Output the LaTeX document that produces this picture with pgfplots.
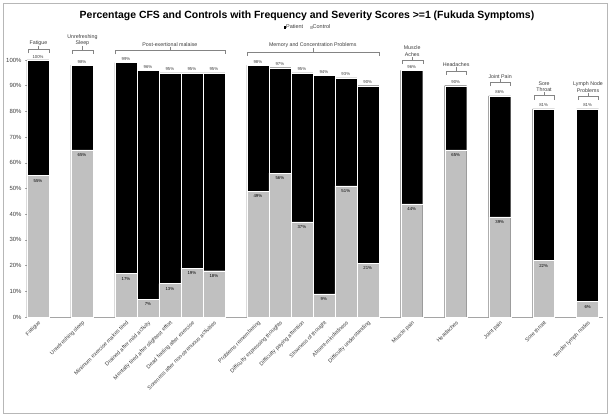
\documentclass[border=0pt]{standalone}
\usepackage{fontspec}
\setmainfont{Liberation Sans}
\usepackage{pgfplots}
\pgfplotsset{compat=1.18}
\usepackage{pgfplotstable}
\definecolor{ctrl}{RGB}{192,192,192}
\definecolor{axgray}{RGB}{165,165,165}
\definecolor{txt}{RGB}{60,60,60}

\pgfplotstableread{
x p c
0 100 55
2 98 65
4 99 17
5 96 7
6 95 13
7 95 19
8 95 18
10 98 49
11 97 56
12 95 37
13 94 9
14 93 51
15 90 21
17 96 44
19 90 65
21 86 39
23 81 22
25 81 6
}\datatab

\newcommand{\grp}[5]{%
  \draw[axgray!80!black, line width=0.4pt] (axis cs:#1,#4-1.6) -- (axis cs:#1,#4) -- (axis cs:#2,#4) -- (axis cs:#2,#4-1.6);
  \draw[axgray!80!black, line width=0.4pt] (axis cs:#3,#4) -- (axis cs:#3,#4+1.3);
  \node[anchor=south, inner sep=0.6bp, align=center, text=txt, font=\fontsize{5.3}{6.2}\selectfont] at (axis cs:#3,#4+1.2) {#5};
}

\begin{document}
\begin{tikzpicture}
\begin{axis}[
  scale only axis, width=576bp, height=257bp,
  xmin=-0.5, xmax=25.7, ymin=0, ymax=100,
  axis x line*=bottom, axis y line*=left,
  axis line style={axgray, line width=0.6pt},
  clip=false,
  /pgf/number format/assume math mode=true,
  ytick={0,10,...,100},
  yticklabel={\pgfmathprintnumber{\tick}\%},
  yticklabel style={font=\fontsize{6}{7}\selectfont, text=txt},
  ytick style={axgray, line width=0.5pt},
  major tick length=2bp,
  tick align=outside,
  xtick={0,2,4,5,6,7,8,10,11,12,13,14,15,17,19,21,23,25},
  xticklabels={Fatigue, Unrefreshing sleep, Minimum exercise makes tired, Drained after mild activity, Mentally tired after slightest effort, Dead feeling after exercise, Soreness after non-strenuous activities, Problems remembering, Difficulty expressing thoughts, Difficulty paying attention, Slowness of thought, Absent-mindedness, Difficulty understanding, Muscle pain, Headaches, Joint pain, Sore throat, Tender lymph nodes},
  x tick style={draw=none},
  xticklabel style={font=\fontsize{5.5}{6}\selectfont, text=txt, rotate=45, anchor=north east, inner sep=0.8bp},
]
\addplot[ybar, bar width=1, bar shift=0pt, fill=black, draw=white, line width=0.3pt,
  nodes near coords={\pgfmathprintnumber[fixed,precision=0]{\pgfplotspointmeta}\%},
  nodes near coords style={font=\fontsize{4.3}{5}\selectfont, text=txt, anchor=south, inner sep=0.6bp, yshift=1.2bp}]
  table[x=x, y=p] {\datatab};
\addplot[ybar, bar width=1, bar shift=0pt, fill=ctrl, draw=white, line width=0.3pt,
  nodes near coords={\pgfmathprintnumber[fixed,precision=0]{\pgfplotspointmeta}\%},
  nodes near coords style={font=\fontsize{4.3}{5}\selectfont, text=black, anchor=north, inner sep=0.6bp, yshift=-3bp}]
  table[x=x, y=c] {\datatab};

\grp{-0.45}{0.5}{0.02}{104.2}{Fatigue}
\grp{1.55}{2.5}{2.02}{104.0}{Unrefreshing\\Sleep}
\grp{3.5}{8.5}{6}{103.8}{Post-exertional malaise}
\grp{9.5}{15.5}{12.5}{103.2}{Memory and Concentration Problems}
\grp{16.55}{17.5}{17.02}{100.0}{Muscle\\Aches}
\grp{18.55}{19.5}{19.02}{95.8}{Headaches}
\grp{20.55}{21.5}{21.02}{91.3}{Joint Pain}
\grp{22.55}{23.5}{23.02}{86.2}{Sore\\Throat}
\grp{24.55}{25.5}{25.02}{86.0}{Lymph Node\\Problems}

\coordinate (O) at (rel axis cs:0,0);
\coordinate (T) at (rel axis cs:1,1);
\end{axis}
\path (O) ++(280bp,301bp) node[font=\bfseries\fontsize{10.5}{12}\selectfont, text=black] {Percentage CFS and Controls with Frequency and Severity Scores >=1 (Fukuda Symptoms)};
\path (O) ++(280bp,290bp) node[font=\fontsize{5.5}{6}\selectfont, text=txt] {\textcolor{black}{\rule{2.5bp}{2.5bp}}Patient\hspace{7bp}\textcolor{ctrl}{\rule{2.5bp}{2.5bp}}Control};
\draw[axgray!80, line width=0.5pt] ([xshift=-24bp,yshift=-96bp]O) rectangle ([xshift=4bp,yshift=57bp]T);
\pgfresetboundingbox
\path[use as bounding box] ([xshift=-27bp,yshift=-101bp]O) rectangle ([xshift=9bp,yshift=60bp]T);
\end{tikzpicture}
\end{document}
